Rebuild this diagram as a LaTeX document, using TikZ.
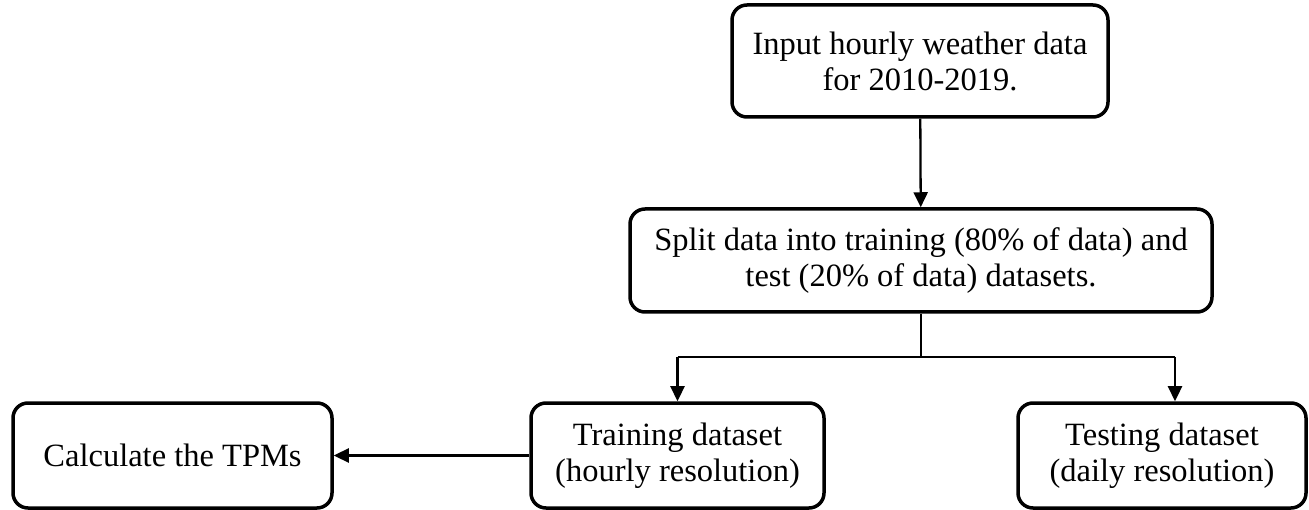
\documentclass[tikz,border=0pt]{standalone}
\usepackage{fontspec}
\setmainfont{Liberation Serif}
\usetikzlibrary{arrows.meta,calc}
\begin{document}
\begin{tikzpicture}[x=1pt,y=-1pt,
  box/.style={draw,line width=3.5pt,rounded corners=15pt,align=center,
    inner sep=0pt,font=\fontsize{32.5}{36}\selectfont},
  conn/.style={line width=2.3pt},
  arr/.style={conn,-{Triangle[length=15pt,width=14pt]}}]
\useasboundingbox (0,0) rectangle (1309,510);

% process boxes
\node[box,minimum width=376pt,minimum height=112pt] (input) at (920,61)
  {Input hourly weather data\\for 2010-2019.};
\node[box,minimum width=582pt,minimum height=103pt] (split) at (921,260.5)
  {Split data into training (80\% of data) and\\test (20\% of data) datasets.};
\node[box,minimum width=293pt,minimum height=105pt] (train) at (677.5,455.5)
  {Training dataset\\(hourly resolution)};
\node[box,minimum width=288pt,minimum height=105pt] (test) at (1162,455.5)
  {Testing dataset\\(daily resolution)};
\node[box,minimum width=319pt,minimum height=105pt] (tpm) at (172.5,455.5)
  {Calculate the TPMs};

% branch points
\coordinate (br) at (921,357);
\coordinate (bl) at (677.5,357);
\coordinate (brr) at (1175,357);

% connectors
\draw[arr] (input) -- (split);
\draw[conn] (split) -- (br);
\draw[conn] (bl) -- (brr);
\draw[arr] (bl) -- (train);
\draw[arr] (brr) -- (brr |- test.north);
\draw[arr] (train.west) -- (tpm.east);
\end{tikzpicture}
\end{document}
